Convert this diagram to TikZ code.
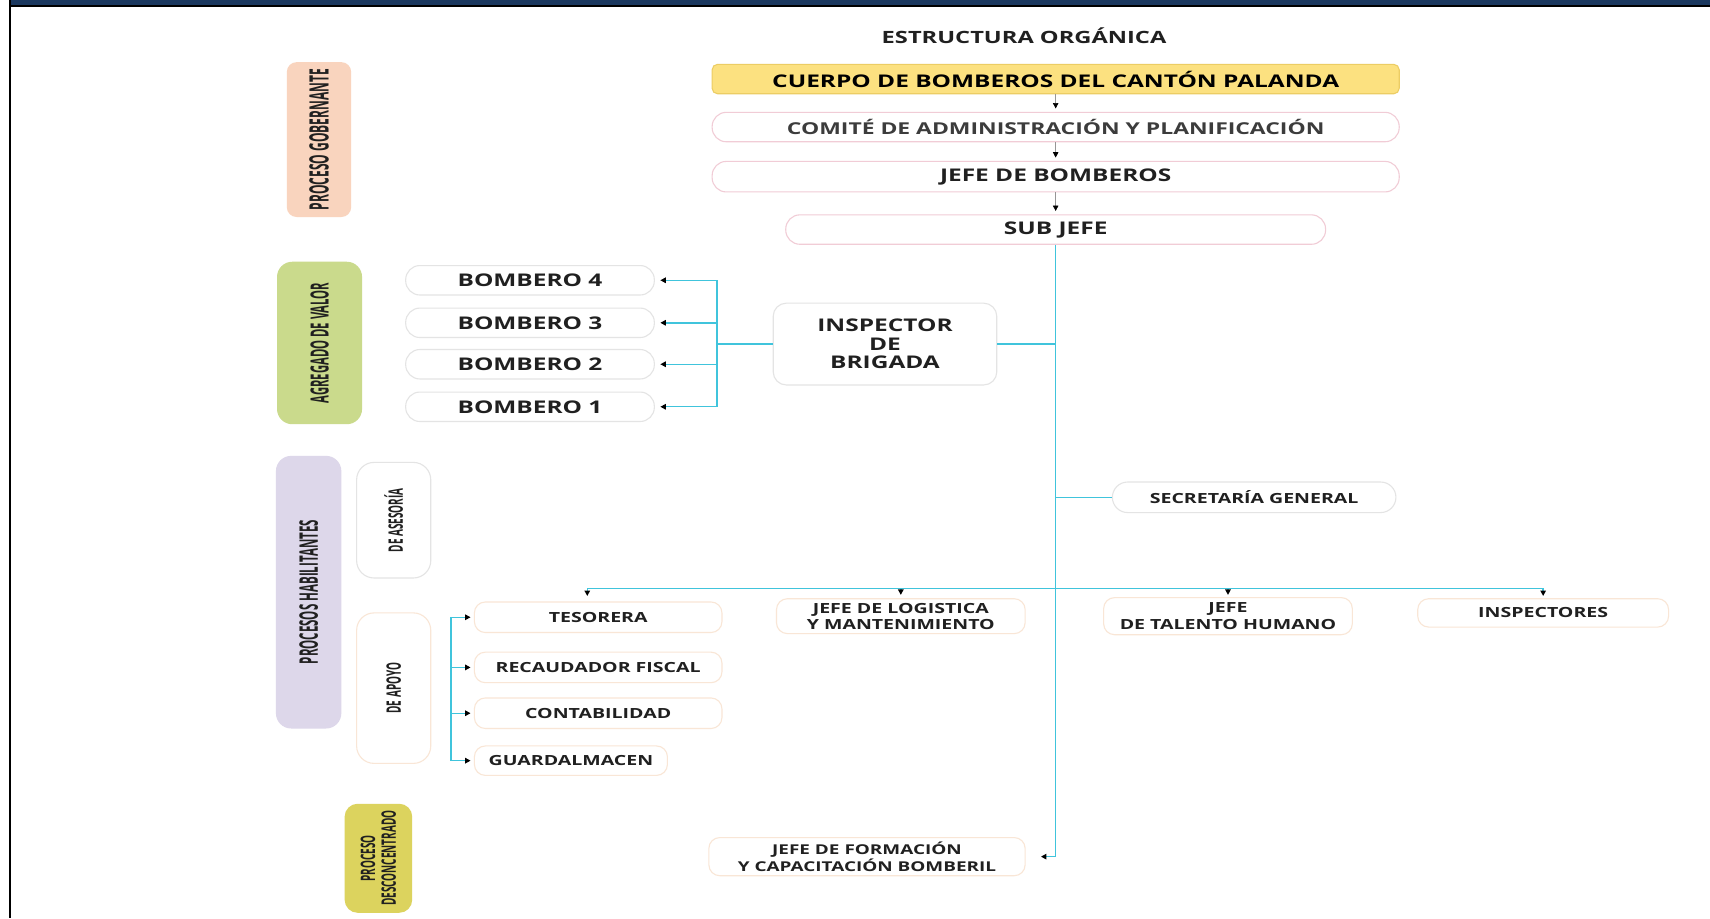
\documentclass[tikz,border=0pt]{standalone}
\usepackage{fontspec}
\usetikzlibrary{arrows.meta}
\setmainfont{Open Sans}
\newfontfamily\hf[FakeStretch=1.4]{Open Sans}
\newfontfamily\vfa[FakeStretch=0.45]{Open Sans}
\newfontfamily\vfb[FakeStretch=0.5]{Open Sans}
\definecolor{navy}{RGB}{27,56,95}
\definecolor{cyanl}{RGB}{64,196,220}
\definecolor{txt}{RGB}{32,32,32}
\definecolor{yel}{RGB}{252,225,128}
\definecolor{yelb}{RGB}{236,205,100}
\definecolor{peach}{RGB}{249,212,190}
\definecolor{greenl}{RGB}{202,218,140}
\definecolor{lav}{RGB}{221,215,234}
\definecolor{olive}{RGB}{220,211,94}
\definecolor{pinkb}{RGB}{241,204,214}
\definecolor{grayb}{RGB}{228,228,228}
\definecolor{peachb}{RGB}{249,230,214}
\definecolor{gline}{RGB}{150,150,150}
\tikzset{
  tip/.style={-{Triangle[length=5pt,width=5pt,color=black]}},
  gl/.style={draw=gline,line width=0.6pt,tip,shorten >=3pt},
  cl/.style={draw=cyanl,line width=1.3pt},
  topbox/.style={draw=pinkb,line width=1pt,fill=white,rounded corners=13pt,inner sep=0pt,text=txt,
     font=\hf\bfseries\fontsize{16}{18}\selectfont},
  bbox/.style={draw=grayb,line width=1pt,fill=white,rounded corners=13pt,inner sep=0pt,text=txt,align=center,
     font=\hf\bfseries\fontsize{16}{17}\selectfont},
  lbox/.style={draw=peachb,line width=1pt,fill=white,rounded corners=10pt,inner sep=0pt,text=txt,align=center,
     font=\hf\bfseries\fontsize{12.8}{14.5}\selectfont},
  vlab/.style={rotate=90,rounded corners=13pt,inner sep=0pt,text=txt,align=center,
     font=\vfa\bfseries\fontsize{24}{26}\selectfont},
  vlabs/.style={vlab,font=\vfb\bfseries\fontsize{18.3}{20}\selectfont},
}
\begin{document}
\begin{tikzpicture}[x=1pt,y=-1pt]
\useasboundingbox (0,0) rectangle (1568,842);
\fill[white] (0,0) rectangle (1568,842);
% frame
\fill[navy] (10,0) rectangle (1568,4.6);
\fill[black] (8.2,4.6) rectangle (1568,6.6);
\fill[black] (8.2,0) rectangle (10.1,842);

% title
\node[text=txt,font=\hf\bfseries\fontsize{15.5}{17}\selectfont] (title) at (939,33) {ESTRUCTURA ORGÁNICA};

% top chain
\node[topbox,draw=yelb,fill=yel,rounded corners=5pt,minimum width=630pt,minimum height=27pt,text=black] (cuerpo) at (968,72.5) {CUERPO DE BOMBEROS DEL CANTÓN PALANDA};
\node[topbox,minimum width=630pt,minimum height=27pt,text={rgb,255:red,60;green,60;blue,60},font=\hf\bfseries\fontsize{15}{17}\selectfont] (comite) at (968,116.5) {COMITÉ DE ADMINISTRACIÓN Y PLANIFICACIÓN};
\node[topbox,minimum width=630pt,minimum height=28pt] (jefe) at (968,162) {JEFE DE BOMBEROS};
\node[topbox,minimum width=495pt,minimum height=27pt] (sub) at (968,210.5) {SUB JEFE};
\draw[gl] (cuerpo) -- (comite);
\draw[gl] (comite) -- (jefe);
\draw[gl] (jefe.south -| sub.north) -- (sub);

% left labels
\node[vlab,fill=peach,rounded corners=9pt,minimum width=142pt,minimum height=59pt,font=\vfa\bfseries\fontsize{24.5}{26}\selectfont] (gob) at (292.5,128) {PROCESO GOBERNANTE};
\node[vlab,fill=greenl,rounded corners=14pt,minimum width=149pt,minimum height=78pt,font=\vfa\bfseries\fontsize{23}{25}\selectfont] (agr) at (293,314.5) {AGREGADO DE VALOR};
\node[vlab,fill=lav,rounded corners=14pt,minimum width=250pt,minimum height=60pt,font=\vfa\bfseries\fontsize{23.5}{25}\selectfont] (hab) at (283,543) {PROCESOS HABILITANTES};
\node[vlabs,draw=grayb,line width=1pt,fill=white,rounded corners=16pt,minimum width=106pt,minimum height=68pt] (ase) at (361,477) {DE ASESORÍA};
\node[vlabs,draw=peachb,line width=1pt,fill=white,rounded corners=16pt,minimum width=138pt,minimum height=68pt] (apo) at (361,631) {DE APOYO};
\node[vlabs,fill=olive,rounded corners=12pt,minimum width=100pt,minimum height=62pt,font=\vfb\bfseries\fontsize{18.3}{19}\selectfont] (desc) at (347,787) {PROCESO\\DESCONCENTRADO};

% inspector & bomberos
\node[bbox,rounded corners=12pt,minimum width=205pt,minimum height=75pt] (insp) at (811.5,315.5) {INSPECTOR\\DE\\BRIGADA};
\node[bbox,minimum width=228pt,minimum height=27pt] (b4) at (486,257) {BOMBERO 4};
\node[bbox,minimum width=228pt,minimum height=27pt] (b3) at (486,296) {BOMBERO 3};
\node[bbox,minimum width=228pt,minimum height=27pt] (b2) at (486,334) {BOMBERO 2};
\node[bbox,minimum width=228pt,minimum height=27pt] (b1) at (486,373) {BOMBERO 1};

% secretaria
\node[bbox,rounded corners=14pt,minimum width=260pt,minimum height=28pt,font=\hf\bfseries\fontsize{12.8}{14}\selectfont] (sec) at (1150,456) {SECRETARÍA GENERAL};

% second level
\node[lbox,minimum width=227pt,minimum height=28pt] (tes) at (548.5,566) {TESORERA};
\node[lbox,minimum width=228pt,minimum height=32pt] (log) at (826,565) {JEFE DE LOGISTICA\\Y MANTENIMIENTO};
\node[lbox,minimum width=228pt,minimum height=34pt,font=\hf\bfseries\fontsize{12.8}{15}\selectfont] (tal) at (1126,565) {JEFE\\DE TALENTO HUMANO};
\node[lbox,minimum width=230pt,minimum height=26pt] (insps) at (1415,562) {INSPECTORES};
\node[lbox,minimum width=227pt,minimum height=28pt] (rec) at (548.5,612) {RECAUDADOR FISCAL};
\node[lbox,minimum width=227pt,minimum height=28pt] (con) at (548.5,654) {CONTABILIDAD};
\node[lbox,minimum width=177pt,minimum height=27pt] (gua) at (523.5,697.5) {GUARDALMACEN};
\node[lbox,minimum width=290pt,minimum height=35pt,font=\hf\bfseries\fontsize{12.4}{15}\selectfont] (form) at (795,785.5) {JEFE DE FORMACIÓN\\Y CAPACITACIÓN BOMBERIL};

% trunk
\draw[cl,tip,shorten >=14pt] (sub.south) |- (form.east);
\draw[cl] (sub.south |- insp.east) -- (insp.east);
\draw[cl] (insp.west) -- ++(-51,0) coordinate (bj);
\draw[cl] (bj |- b4.east) -- (bj |- b1.east);
\foreach \b in {b1,b2,b3,b4}{
  \draw[cl,tip,shorten >=5pt] (bj |- \b.east) -- (\b.east);
}
\draw[cl] (sub.south |- sec.west) -- (sec.west);

% bus
\coordinate (bus) at ([xshift=-10pt,yshift=12pt]tes.north);
\draw[cl] (bus) -- (bus -| insps.north);
\draw[cl,tip,shorten >=5pt] (bus) -- ([xshift=-10pt]tes.north);
\draw[cl,tip,shorten >=3pt] (bus -| log.north) -- (log.north);
\draw[cl,tip,shorten >=2pt] (bus -| tal.north) -- (tal.north);
\draw[cl,tip,shorten >=2pt] (bus -| insps.north) -- (insps.north);

% apoyo bracket
\coordinate (ab) at ([xshift=-21pt]tes.west);
\draw[cl] (ab) -- (ab |- gua.west);
\foreach \b in {tes,rec,con,gua}{
  \draw[cl,tip,shorten >=3pt] (ab |- \b.west) -- (\b.west);
}
\end{tikzpicture}
\end{document}
